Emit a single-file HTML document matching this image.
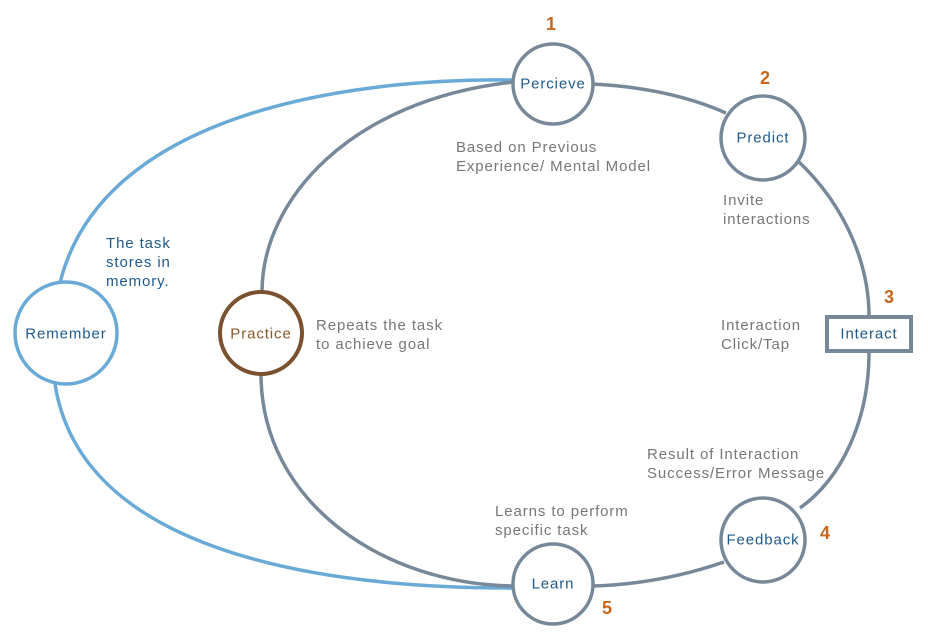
<!DOCTYPE html>
<html><head><meta charset="utf-8"><style>
html,body{margin:0;padding:0;background:#fff;}
svg{display:block;font-family:"Liberation Sans",sans-serif;}
.n{fill:#1f5a8c;font-size:15px;text-anchor:middle;dominant-baseline:central;letter-spacing:0.9px;}
.g{fill:#777;font-size:15px;letter-spacing:0.9px;}
.num{fill:#c8661a;font-size:18px;font-weight:bold;text-anchor:middle;}
</style></head><body>
<svg width="928" height="644" viewBox="0 0 928 644">
<g fill="none" stroke-width="3.5">
<path d="M60,283 C100,120 330,78 513,80" stroke="#6aaad6"/>
<path d="M55,384 C80,545 300,588 513,588" stroke="#6aaad6"/>
<path d="M593,84 Q670,88 726,113" stroke="#778899"/>
<path d="M797,160 C850,210 869,270 869,316" stroke="#778899"/>
<path d="M869,352 C869,420 842,478 800,508" stroke="#778899"/>
<path d="M724,562 Q660,584 593,586" stroke="#778899"/>
<path d="M513,82 C350,100 262,200 262,292" stroke="#778899"/>
<path d="M261,374 C261,500 380,584 513,586" stroke="#778899"/>
</g>
<g stroke-width="3.5" fill="#fff">
<circle cx="553" cy="84" r="40" stroke="#778899"/>
<circle cx="763" cy="138" r="42" stroke="#778899"/>
<rect x="827" y="317" width="84" height="34" stroke="#778899" stroke-width="4"/>
<circle cx="763" cy="540" r="42" stroke="#778899"/>
<circle cx="553" cy="584" r="40" stroke="#778899"/>
<circle cx="261" cy="333" r="41" stroke="#7a5230" stroke-width="4"/>
<circle cx="66" cy="333" r="51" stroke="#6aaad6"/>
</g>
<text class="n" x="553" y="84">Percieve</text>
<text class="n" x="763" y="138">Predict</text>
<text class="n" x="869" y="334">Interact</text>
<text class="n" x="763" y="540">Feedback</text>
<text class="n" x="553" y="584">Learn</text>
<text class="n" x="261" y="334" style="fill:#8a5a2b">Practice</text>
<text class="n" x="66" y="334">Remember</text>
<text class="num" x="551" y="30">1</text>
<text class="num" x="765" y="84">2</text>
<text class="num" x="889" y="303">3</text>
<text class="num" x="825" y="539">4</text>
<text class="num" x="607" y="614">5</text>
<text class="g"><tspan x="456" y="152">Based on Previous</tspan><tspan x="456" y="171">Experience/ Mental Model</tspan></text>
<text class="g"><tspan x="723" y="205">Invite</tspan><tspan x="723" y="224">interactions</tspan></text>
<text class="g"><tspan x="721" y="330">Interaction</tspan><tspan x="721" y="349">Click/Tap</tspan></text>
<text class="g"><tspan x="647" y="459">Result of Interaction</tspan><tspan x="647" y="478">Success/Error Message</tspan></text>
<text class="g"><tspan x="495" y="516">Learns to perform</tspan><tspan x="495" y="535">specific task</tspan></text>
<text class="g"><tspan x="316" y="330">Repeats the task</tspan><tspan x="316" y="349">to achieve goal</tspan></text>
<text class="g" style="fill:#1f5a8c"><tspan x="106" y="248">The task</tspan><tspan x="106" y="267">stores in</tspan><tspan x="106" y="286">memory.</tspan></text>
</svg>
</body></html>
